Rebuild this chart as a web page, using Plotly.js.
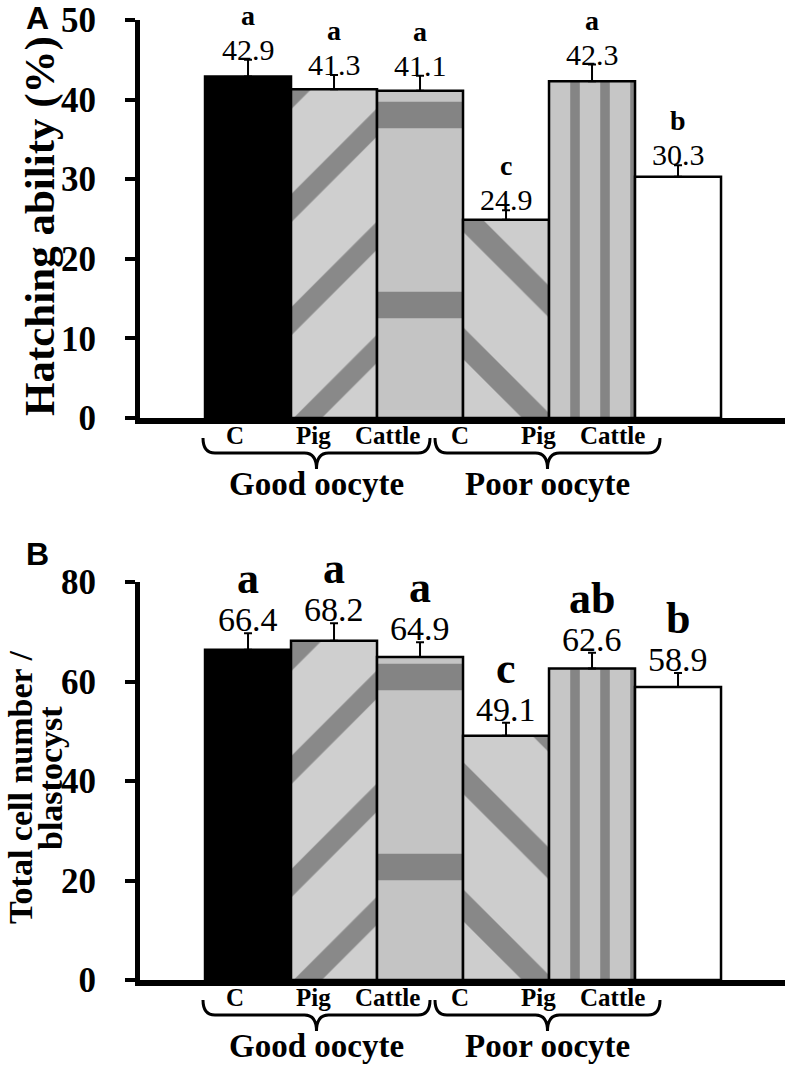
<!DOCTYPE html>
<html>
<head>
<meta charset="utf-8">
<script src="https://cdn.plot.ly/plotly-3.0.1.min.js"></script>
<style>
  html, body { margin: 0; padding: 0; background: #fff; }
  #chart { width: 792px; height: 1072px; }
</style>
</head>
<body>
<div id="chart"></div>
<script>
// data
const groups = ['Good oocyte', 'Poor oocyte'];
const categories = ['C', 'Pig', 'Cattle', 'C', 'Pig', 'Cattle'];

const hatching = [42.9, 41.3, 41.1, 24.9, 42.3, 30.3];
const hatchingErr = [2.1, 1.8, 1.9, 1.2, 2.1, 1.45];
const hatchingLetters = ['a', 'a', 'a', 'c', 'a', 'b'];

const cellNumber = [66.4, 68.2, 64.9, 49.1, 62.6, 58.9];
const cellErr = [3.3, 3.5, 3.0, 2.6, 3.2, 2.8];
const cellLetters = ['a', 'a', 'a', 'c', 'ab', 'b'];

// figure is laid out in pixels, converted to paper units
const W = 792, H = 1072;
const px = x => x / W;
const py = y => 1 - y / H;

const serif = 'Liberation Serif';
const sans = 'Liberation Sans';
const xs = categories.map((c, i) => i);

// bar fills (gradients in the original, approximated with patterns)
const barColor = ['#000000', '#cfcfcf', '#c4c4c4', '#cdcdcd', '#c6c6c6', '#ffffff'];
const barPattern = {
    shape: ['', '/', '-', '\\', '|', ''],
    fgcolor: ['#000000', '#5e5e5e', '#3c3c3c', '#555555', '#5a5a5a', '#ffffff'],
    size: [10, 80, 190, 90, 30, 10],
    solidity: [0.2, 0.25, 0.14, 0.25, 0.32, 0.2],
    fillmode: 'overlay',
};

function barTrace(values, err, xa, ya) {
    return {
        type: 'bar',
        x: xs,
        y: values,
        xaxis: xa,
        yaxis: ya,
        width: 1,
        marker: { color: barColor, pattern: barPattern, line: { color: '#000', width: 2.5 } },
        error_y: {
            type: 'data', symmetric: false, array: err, arrayminus: err.map(() => 0),
            color: '#000', thickness: 2, width: 4,
        },
        hoverinfo: 'y',
        showlegend: false,
    };
}

const data = [
    barTrace(hatching, hatchingErr, 'x', 'y'),
    barTrace(cellNumber, cellErr, 'x2', 'y2'),
];

// panel settings: where the zero line sits (px) and label sizes
const panels = [
    { xa: 'x', ya: 'y', zero: 418, values: hatching, err: hatchingErr, letters: hatchingLetters,
      valueSize: 30, letterSize: 28, valueShift: -8, letterShift: 27 },
    { xa: 'x2', ya: 'y2', zero: 980, values: cellNumber, err: cellErr, letters: cellLetters,
      valueSize: 34, letterSize: 44, valueShift: -7, letterShift: 28 },
];

const catLabelPx = [235, 313, 387, 460, 538, 612];
const braces = [[203, 430], [435, 660]];

function bracePath(x0, x1, yTop) {
    const xm = (x0 + x1) / 2, yMid = yTop + 15, yTip = yTop + 31, r = 12;
    const p = (x, y) => `${px(x)},${py(y)}`;
    return `M ${p(x0, yTop)} Q ${p(x0, yMid)} ${p(x0 + r, yMid)} L ${p(xm - r, yMid)} ` +
        `Q ${p(xm, yMid)} ${p(xm, yTip)} Q ${p(xm, yMid)} ${p(xm + r, yMid)} ` +
        `L ${p(x1 - r, yMid)} Q ${p(x1, yMid)} ${p(x1, yTop)}`;
}

const annotations = [];
const shapes = [];

panels.forEach(pn => {
    pn.values.forEach((v, i) => {
        annotations.push({
            xref: pn.xa, yref: pn.ya, x: i, y: v + pn.err[i],
            text: v.toFixed(1), showarrow: false, yanchor: 'bottom', yshift: pn.valueShift,
            font: { family: serif, size: pn.valueSize, color: '#000' },
        });
        annotations.push({
            xref: pn.xa, yref: pn.ya, x: i, y: v + pn.err[i],
            text: pn.letters[i], showarrow: false, yanchor: 'bottom', yshift: pn.letterShift,
            font: { family: serif, size: pn.letterSize, color: '#000', weight: 'bold' },
        });
    });
    categories.forEach((c, i) => {
        annotations.push({
            xref: 'paper', yref: 'paper', x: px(catLabelPx[i]), y: py(pn.zero + 17),
            text: c, showarrow: false, xanchor: 'center', yanchor: 'middle',
            font: { family: serif, size: 25, color: '#000', weight: 'bold' },
        });
    });
    braces.forEach(([b0, b1], g) => {
        shapes.push({
            type: 'path', xref: 'paper', yref: 'paper', path: bracePath(b0, b1, pn.zero + 20),
            line: { color: '#000', width: 3 }, fillcolor: 'rgba(0,0,0,0)',
        });
        annotations.push({
            xref: 'paper', yref: 'paper', x: px((b0 + b1) / 2), y: py(pn.zero + 66),
            text: groups[g], showarrow: false, xanchor: 'center', yanchor: 'middle',
            font: { family: serif, size: 33, color: '#000', weight: 'bold' },
        });
    });
});

// axis titles and panel letters
const titleFont = size => ({ family: serif, size: size, color: '#000', weight: 'bold' });
annotations.push(
    { xref: 'paper', yref: 'paper', x: px(40), y: py(226), textangle: -90,
      text: 'Hatching ability (%)', showarrow: false, xanchor: 'center', yanchor: 'middle',
      font: titleFont(43) },
    { xref: 'paper', yref: 'paper', x: px(20), y: py(787), textangle: -90,
      text: 'Total cell number /', showarrow: false, xanchor: 'center', yanchor: 'middle',
      font: titleFont(34) },
    { xref: 'paper', yref: 'paper', x: px(50), y: py(778), textangle: -90,
      text: 'blastocyst', showarrow: false, xanchor: 'center', yanchor: 'middle',
      font: titleFont(34) },
    { xref: 'paper', yref: 'paper', x: px(37), y: py(18), text: 'A', showarrow: false,
      xanchor: 'center', yanchor: 'middle',
      font: { family: sans, size: 32, color: '#000', weight: 'bold' } },
    { xref: 'paper', yref: 'paper', x: px(37), y: py(554), text: 'B', showarrow: false,
      xanchor: 'center', yanchor: 'middle',
      font: { family: sans, size: 32, color: '#000', weight: 'bold' } },
);

const xDomain = [px(140), px(785)];
const xRange = [-1.256, 6.244];

const xAxisBase = {
    domain: xDomain, range: xRange, showline: true, linecolor: '#000', linewidth: 6,
    showgrid: false, zeroline: false, showticklabels: false, ticks: '', fixedrange: true,
};
const yAxisBase = {
    showline: true, linecolor: '#000', linewidth: 5, showgrid: false, zeroline: false,
    ticks: 'outside', ticklen: 10, tickwidth: 4, tickcolor: '#000', ticklabelstandoff: 22,
    tickfont: { family: serif, size: 35, color: '#000', weight: 'bold' }, fixedrange: true,
};

const layout = {
    width: W,
    height: H,
    margin: { l: 0, r: 0, t: 0, b: 0 },
    font: { family: serif, color: '#000' },
    paper_bgcolor: '#fff',
    plot_bgcolor: 'rgba(0,0,0,0)',
    bargap: 0,
    showlegend: false,
    xaxis: Object.assign({}, xAxisBase, { anchor: 'y' }),
    yaxis: Object.assign({}, yAxisBase, { anchor: 'x', domain: [py(418), py(20)], range: [0, 50], dtick: 10 }),
    xaxis2: Object.assign({}, xAxisBase, { anchor: 'y2' }),
    yaxis2: Object.assign({}, yAxisBase, { anchor: 'x2', domain: [py(980), py(582)], range: [0, 80], dtick: 20 }),
    annotations: annotations,
    shapes: shapes,
};

Plotly.newPlot('chart', data, layout, { displayModeBar: false, staticPlot: true });
</script>
</body>
</html>
